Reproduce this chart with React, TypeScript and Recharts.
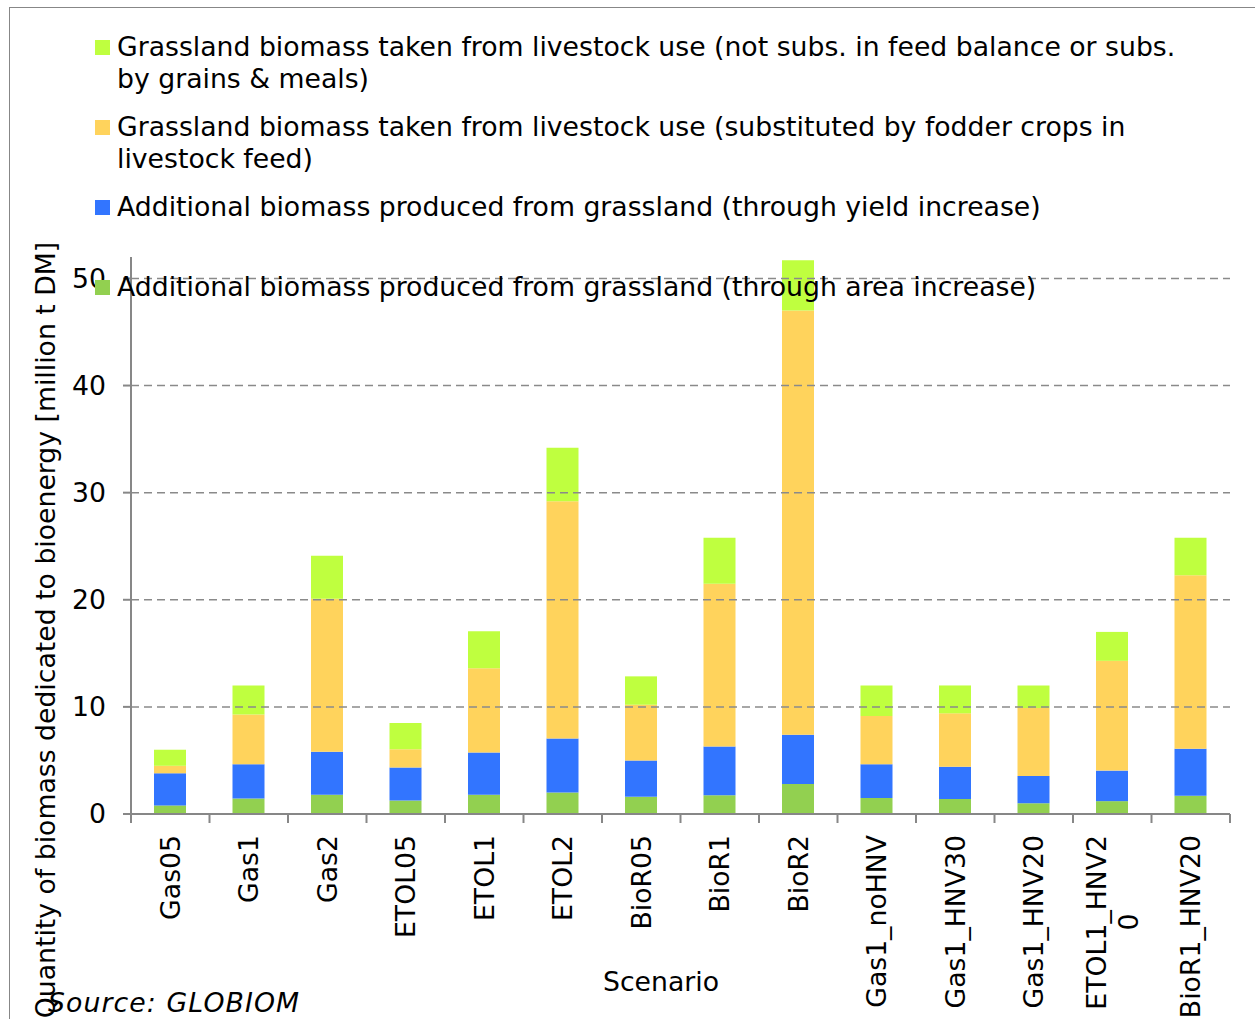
import React from 'react';
import { BarChart, Bar, XAxis, YAxis, ReferenceLine } from 'recharts';

// Scenario names along the category axis
const scenarios = [
  'Gas05', 'Gas1', 'Gas2', 'ETOL05', 'ETOL1', 'ETOL2', 'BioR05',
  'BioR1', 'BioR2', 'Gas1_noHNV', 'Gas1_HNV30', 'Gas1_HNV20', 'ETOL1_HNV20', 'BioR1_HNV20',
];

// million t DM per scenario, stacked bottom to top
const areaIncrease = [0.8, 1.45, 1.8, 1.25, 1.8, 2.0, 1.6, 1.75, 2.8, 1.5, 1.4, 1.0, 1.2, 1.7];
const yieldIncrease = [3.0, 3.2, 4.0, 3.1, 3.95, 5.05, 3.4, 4.55, 4.6, 3.15, 3.0, 2.55, 2.85, 4.4];
const fodderSubstituted = [0.7, 4.65, 14.3, 1.7, 7.85, 22.15, 5.2, 15.2, 39.6, 4.5, 5.0, 6.35, 10.25, 16.2];
const notSubstituted = [1.5, 2.7, 4.0, 2.45, 3.45, 5.0, 2.65, 4.3, 4.7, 2.85, 2.6, 2.1, 2.7, 3.5];

const yTicks = [0, 10, 20, 30, 40, 50];

const seriesNames = [
  'Additional biomass produced from grassland (through area increase)',
  'Additional biomass produced from grassland (through yield increase)',
  'Grassland biomass taken from livestock use (substituted by fodder crops in livestock feed)',
  'Grassland biomass taken from livestock use (not subs. in feed balance or subs. by grains & meals)',
];
const seriesKeys = ['area', 'yield', 'fodder', 'notSubs'];
const seriesColors = ['#92D050', '#3275FF', '#FFD35C', '#BFFF3F'];

const rows = scenarios.map((name, i) => ({
  name,
  area: areaIncrease[i],
  yield: yieldIncrease[i],
  fodder: fodderSubstituted[i],
  notSubs: notSubstituted[i],
}));

const FONT = '"DejaVu Sans", Verdana, sans-serif';
const FS = 26.7;
const W = 1255;
const H = 1019;
const MARGIN = { top: 257, right: 25, bottom: 5, left: 71 };
const Y_AXIS_W = 60;
const X_AXIS_H = 200;
const PLOT_W = W - MARGIN.left - Y_AXIS_W - MARGIN.right;
const STEP = PLOT_W / scenarios.length;
const AXIS_GREY = '#878787';

// long names break the way the spreadsheet wrapped them
const wrapped: Record<string, string[]> = {
  ETOL1_HNV20: ['ETOL1_HNV2', '0'],
};

const ScenarioTick = (props: any) => {
  const { x, y, payload, index } = props;
  const ty = y + 21;
  const lines = wrapped[payload.value];
  const last = index === scenarios.length - 1;
  return (
    <g>
      <line x1={x - STEP / 2} y1={y} x2={x - STEP / 2} y2={y + 9} stroke={AXIS_GREY} strokeWidth={2} />
      {last && <line x1={x + STEP / 2} y1={y} x2={x + STEP / 2} y2={y + 9} stroke={AXIS_GREY} strokeWidth={2} />}
      {lines ? (
        <g transform={`rotate(-90, ${x}, ${ty})`} fontSize={FS} fontFamily={FONT} fill="#000">
          <text x={x} y={ty} dy="-0.25em" textAnchor="end">{lines[0]}</text>
          <text x={x - 87} y={ty} dy="0.95em" textAnchor="middle">{lines[1]}</text>
        </g>
      ) : (
        <text
          x={x}
          y={ty}
          dy="0.35em"
          textAnchor="end"
          transform={`rotate(-90, ${x}, ${ty})`}
          fontSize={FS}
          fontFamily={FONT}
          fill="#000"
        >
          {payload.value}
        </text>
      )}
    </g>
  );
};

const legendOrder = [3, 2, 1, 0];
const legendTops = [31, 111, 191, 271];

const App: React.FC = () => {
  return (
    <div
      style={{
        position: 'absolute',
        left: 0,
        top: 0,
        width: W,
        height: H,
        overflow: 'hidden',
        background: '#fff',
        fontFamily: FONT,
      }}
    >
      <div
        style={{
          position: 'absolute',
          left: 9,
          top: 7,
          width: W,
          height: H,
          borderLeft: `1.5px solid ${AXIS_GREY}`,
          borderTop: `1.5px solid ${AXIS_GREY}`,
        }}
      />
      <div style={{ position: 'absolute', left: 0, top: 0 }}>
        <BarChart width={W} height={H} data={rows} margin={MARGIN} barSize={32}>
          {yTicks.slice(1).map((v) => (
            <ReferenceLine
              key={v}
              y={v}
              stroke="#8a8a8a"
              strokeWidth={1.5}
              strokeDasharray="8 5"
            />
          ))}
          <XAxis
            dataKey="name"
            height={X_AXIS_H}
            interval={0}
            tickSize={0}
            tickMargin={0}
            axisLine={{ stroke: AXIS_GREY, strokeWidth: 2 }}
            tick={<ScenarioTick />}
          />
          <YAxis
            width={Y_AXIS_W}
            domain={[0, 52]}
            ticks={yTicks}
            allowDataOverflow
            tickSize={8}
            tickMargin={17}
            axisLine={{ stroke: AXIS_GREY, strokeWidth: 2 }}
            tickLine={{ stroke: AXIS_GREY, strokeWidth: 2 }}
            tick={{ fill: '#000', fontSize: FS, fontFamily: FONT }}
          />
          {seriesKeys.map((k, i) => (
            <Bar
              key={k}
              dataKey={k}
              name={seriesNames[i]}
              stackId="biomass"
              fill={seriesColors[i]}
              isAnimationActive={false}
            />
          ))}
        </BarChart>
      </div>

      {legendOrder.map((s, j) => (
        <div
          key={seriesKeys[s]}
          style={{ position: 'absolute', left: 95, top: legendTops[j], width: 1105 }}
        >
          <div
            style={{
              position: 'absolute',
              left: 0,
              top: 9,
              width: 15,
              height: 15,
              background: seriesColors[s],
            }}
          />
          <div style={{ marginLeft: 22, fontSize: FS, lineHeight: '32px', color: '#000' }}>
            {seriesNames[s]}
          </div>
        </div>
      ))}

      <div
        style={{
          position: 'absolute',
          left: 45,
          top: 630,
          transform: 'translate(-50%, -50%) rotate(-90deg)',
          whiteSpace: 'nowrap',
          fontSize: FS,
          color: '#000',
        }}
      >
        Quantity of biomass dedicated to bioenergy [million t DM]
      </div>

      <div
        style={{
          position: 'absolute',
          left: 661,
          top: 981,
          transform: 'translate(-50%, -50%)',
          whiteSpace: 'nowrap',
          fontSize: FS,
          color: '#000',
        }}
      >
        Scenario
      </div>

      <div
        style={{
          position: 'absolute',
          left: 48,
          top: 1002,
          transform: 'translateY(-50%)',
          whiteSpace: 'nowrap',
          fontSize: FS,
          fontStyle: 'italic',
          letterSpacing: 1.1,
          color: '#000',
        }}
      >
        Source: GLOBIOM
      </div>
    </div>
  );
};

export default App;
